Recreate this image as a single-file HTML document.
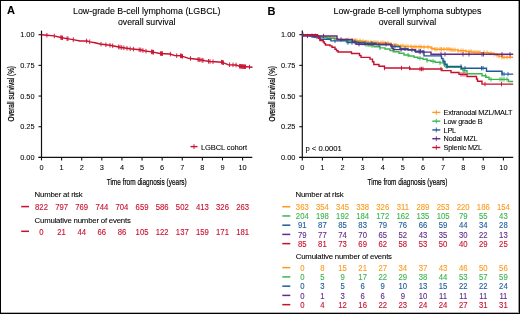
<!DOCTYPE html>
<html><head><meta charset="utf-8"><style>
html,body{margin:0;padding:0;background:#fff;}
body{width:520px;height:314px;overflow:hidden;}
.frame{position:absolute;left:0;top:0;width:520px;height:314px;box-sizing:border-box;border:1px solid #000;}
.frame2{position:absolute;left:0;top:0;width:519px;height:313px;box-sizing:border-box;border-right:1px solid rgba(0,0,0,0.4);border-bottom:1px solid rgba(0,0,0,0.3);}
.wrap{position:absolute;left:0;top:0;width:520px;height:314px;will-change:transform;}
svg{position:absolute;left:0;top:0;}
text{font-family:"Liberation Sans", sans-serif;}
</style></head><body>
<div class="wrap"><svg width="520" height="314" viewBox="0 0 520 314">
<text x="7.00" y="13.90" font-size="11" fill="#000" text-anchor="start" font-weight="bold" stroke="#000" stroke-width="0.08" >A</text>
<text x="146.70" y="13.60" font-size="8.9" fill="#000" text-anchor="middle" font-weight="normal" stroke="#000" stroke-width="0.1" >Low-grade B-cell lymphoma (LGBCL)</text>
<text x="146.70" y="24.70" font-size="8.7" fill="#000" text-anchor="middle" font-weight="normal" stroke="#000" stroke-width="0.1" >overall survival</text>
<line x1="41.50" y1="30.6" x2="41.50" y2="158.00" stroke="#111" stroke-width="1.2"/>
<line x1="38.50" y1="157.40" x2="252.30" y2="157.40" stroke="#111" stroke-width="1.3"/>
<line x1="38.50" y1="157.40" x2="41.50" y2="157.40" stroke="#111" stroke-width="1.1"/>
<text transform="translate(34.60,159.95) scale(0.95,1)" font-size="7.8" fill="#000" text-anchor="end" font-weight="normal" stroke="#000" stroke-width="0.06" >0.00</text>
<line x1="38.50" y1="126.73" x2="41.50" y2="126.73" stroke="#111" stroke-width="1.1"/>
<text transform="translate(34.60,129.28) scale(0.95,1)" font-size="7.8" fill="#000" text-anchor="end" font-weight="normal" stroke="#000" stroke-width="0.06" >0.25</text>
<line x1="38.50" y1="96.05" x2="41.50" y2="96.05" stroke="#111" stroke-width="1.1"/>
<text transform="translate(34.60,98.60) scale(0.95,1)" font-size="7.8" fill="#000" text-anchor="end" font-weight="normal" stroke="#000" stroke-width="0.06" >0.50</text>
<line x1="38.50" y1="65.38" x2="41.50" y2="65.38" stroke="#111" stroke-width="1.1"/>
<text transform="translate(34.60,67.92) scale(0.95,1)" font-size="7.8" fill="#000" text-anchor="end" font-weight="normal" stroke="#000" stroke-width="0.06" >0.75</text>
<line x1="38.50" y1="34.70" x2="41.50" y2="34.70" stroke="#111" stroke-width="1.1"/>
<text transform="translate(34.60,37.25) scale(0.95,1)" font-size="7.8" fill="#000" text-anchor="end" font-weight="normal" stroke="#000" stroke-width="0.06" >1.00</text>
<line x1="41.50" y1="157.40" x2="41.50" y2="160.40" stroke="#111" stroke-width="1.1"/>
<text transform="translate(41.50,169.60) scale(0.95,1)" font-size="7.8" fill="#000" text-anchor="middle" font-weight="normal" stroke="#000" stroke-width="0.06" >0</text>
<line x1="61.61" y1="157.40" x2="61.61" y2="160.40" stroke="#111" stroke-width="1.1"/>
<text transform="translate(61.61,169.60) scale(0.95,1)" font-size="7.8" fill="#000" text-anchor="middle" font-weight="normal" stroke="#000" stroke-width="0.06" >1</text>
<line x1="81.72" y1="157.40" x2="81.72" y2="160.40" stroke="#111" stroke-width="1.1"/>
<text transform="translate(81.72,169.60) scale(0.95,1)" font-size="7.8" fill="#000" text-anchor="middle" font-weight="normal" stroke="#000" stroke-width="0.06" >2</text>
<line x1="101.83" y1="157.40" x2="101.83" y2="160.40" stroke="#111" stroke-width="1.1"/>
<text transform="translate(101.83,169.60) scale(0.95,1)" font-size="7.8" fill="#000" text-anchor="middle" font-weight="normal" stroke="#000" stroke-width="0.06" >3</text>
<line x1="121.94" y1="157.40" x2="121.94" y2="160.40" stroke="#111" stroke-width="1.1"/>
<text transform="translate(121.94,169.60) scale(0.95,1)" font-size="7.8" fill="#000" text-anchor="middle" font-weight="normal" stroke="#000" stroke-width="0.06" >4</text>
<line x1="142.05" y1="157.40" x2="142.05" y2="160.40" stroke="#111" stroke-width="1.1"/>
<text transform="translate(142.05,169.60) scale(0.95,1)" font-size="7.8" fill="#000" text-anchor="middle" font-weight="normal" stroke="#000" stroke-width="0.06" >5</text>
<line x1="162.16" y1="157.40" x2="162.16" y2="160.40" stroke="#111" stroke-width="1.1"/>
<text transform="translate(162.16,169.60) scale(0.95,1)" font-size="7.8" fill="#000" text-anchor="middle" font-weight="normal" stroke="#000" stroke-width="0.06" >6</text>
<line x1="182.27" y1="157.40" x2="182.27" y2="160.40" stroke="#111" stroke-width="1.1"/>
<text transform="translate(182.27,169.60) scale(0.95,1)" font-size="7.8" fill="#000" text-anchor="middle" font-weight="normal" stroke="#000" stroke-width="0.06" >7</text>
<line x1="202.38" y1="157.40" x2="202.38" y2="160.40" stroke="#111" stroke-width="1.1"/>
<text transform="translate(202.38,169.60) scale(0.95,1)" font-size="7.8" fill="#000" text-anchor="middle" font-weight="normal" stroke="#000" stroke-width="0.06" >8</text>
<line x1="222.49" y1="157.40" x2="222.49" y2="160.40" stroke="#111" stroke-width="1.1"/>
<text transform="translate(222.49,169.60) scale(0.95,1)" font-size="7.8" fill="#000" text-anchor="middle" font-weight="normal" stroke="#000" stroke-width="0.06" >9</text>
<line x1="242.60" y1="157.40" x2="242.60" y2="160.40" stroke="#111" stroke-width="1.1"/>
<text transform="translate(242.60,169.60) scale(0.95,1)" font-size="7.8" fill="#000" text-anchor="middle" font-weight="normal" stroke="#000" stroke-width="0.06" >10</text>
<text transform="translate(14.30,93.80) rotate(-90) scale(0.655,1)" font-size="9.8" fill="#000" stroke="#000" stroke-width="0.22" text-anchor="middle">Overall survival (%)</text>
<text transform="translate(146.70,184.70) scale(0.69,1)" font-size="9.4" fill="#000" stroke="#000" stroke-width="0.2" text-anchor="middle">Time from diagnosis (years)</text>
<path d="M41.50,34.80 L47.00,35.20 L54.00,35.90 L62.00,37.80 L67.00,38.60 L73.00,39.60 L80.00,41.00 L87.00,41.00 L90.00,41.90 L95.00,42.80 L100.00,44.00 L110.00,45.30 L120.00,47.20 L130.00,48.80 L140.00,49.80 L145.00,51.00 L152.00,51.90 L160.00,53.50 L170.00,54.00 L175.00,55.60 L181.00,55.80 L188.00,58.20 L195.00,59.00 L200.00,59.80 L205.00,60.80 L210.00,61.50 L215.00,61.80 L222.00,62.20 L225.00,63.30 L228.00,64.70 L236.00,65.00 L239.00,66.20 L246.00,66.80 L252.50,67.30" fill="none" stroke="#C8102E" stroke-width="1.4" stroke-linejoin="round"/>
<line x1="46.90" y1="32.89" x2="46.90" y2="37.49" stroke="#C8102E" stroke-width="0.9"/>
<line x1="54.30" y1="33.67" x2="54.30" y2="38.27" stroke="#C8102E" stroke-width="0.9"/>
<line x1="60.80" y1="35.21" x2="60.80" y2="39.81" stroke="#C8102E" stroke-width="0.9"/>
<line x1="61.70" y1="35.43" x2="61.70" y2="40.03" stroke="#C8102E" stroke-width="0.9"/>
<line x1="62.50" y1="35.58" x2="62.50" y2="40.18" stroke="#C8102E" stroke-width="0.9"/>
<line x1="67.00" y1="36.30" x2="67.00" y2="40.90" stroke="#C8102E" stroke-width="0.9"/>
<line x1="68.00" y1="36.47" x2="68.00" y2="41.07" stroke="#C8102E" stroke-width="0.9"/>
<line x1="73.30" y1="37.36" x2="73.30" y2="41.96" stroke="#C8102E" stroke-width="0.9"/>
<line x1="86.60" y1="38.70" x2="86.60" y2="43.30" stroke="#C8102E" stroke-width="0.9"/>
<line x1="89.70" y1="39.51" x2="89.70" y2="44.11" stroke="#C8102E" stroke-width="0.9"/>
<line x1="101.00" y1="41.83" x2="101.00" y2="46.43" stroke="#C8102E" stroke-width="0.9"/>
<line x1="105.90" y1="42.47" x2="105.90" y2="47.07" stroke="#C8102E" stroke-width="0.9"/>
<line x1="110.00" y1="43.00" x2="110.00" y2="47.60" stroke="#C8102E" stroke-width="0.9"/>
<line x1="112.70" y1="43.51" x2="112.70" y2="48.11" stroke="#C8102E" stroke-width="0.9"/>
<line x1="118.60" y1="44.63" x2="118.60" y2="49.23" stroke="#C8102E" stroke-width="0.9"/>
<line x1="120.00" y1="44.90" x2="120.00" y2="49.50" stroke="#C8102E" stroke-width="0.9"/>
<line x1="121.70" y1="45.17" x2="121.70" y2="49.77" stroke="#C8102E" stroke-width="0.9"/>
<line x1="123.90" y1="45.52" x2="123.90" y2="50.12" stroke="#C8102E" stroke-width="0.9"/>
<line x1="127.00" y1="46.02" x2="127.00" y2="50.62" stroke="#C8102E" stroke-width="0.9"/>
<line x1="130.20" y1="46.52" x2="130.20" y2="51.12" stroke="#C8102E" stroke-width="0.9"/>
<line x1="133.40" y1="46.84" x2="133.40" y2="51.44" stroke="#C8102E" stroke-width="0.9"/>
<line x1="139.20" y1="47.42" x2="139.20" y2="52.02" stroke="#C8102E" stroke-width="0.9"/>
<line x1="140.80" y1="47.69" x2="140.80" y2="52.29" stroke="#C8102E" stroke-width="0.9"/>
<line x1="142.90" y1="48.20" x2="142.90" y2="52.80" stroke="#C8102E" stroke-width="0.9"/>
<line x1="146.00" y1="48.83" x2="146.00" y2="53.43" stroke="#C8102E" stroke-width="0.9"/>
<line x1="151.50" y1="49.54" x2="151.50" y2="54.14" stroke="#C8102E" stroke-width="0.9"/>
<line x1="152.50" y1="49.70" x2="152.50" y2="54.30" stroke="#C8102E" stroke-width="0.9"/>
<line x1="153.50" y1="49.90" x2="153.50" y2="54.50" stroke="#C8102E" stroke-width="0.9"/>
<line x1="160.50" y1="51.23" x2="160.50" y2="55.82" stroke="#C8102E" stroke-width="0.9"/>
<line x1="161.50" y1="51.28" x2="161.50" y2="55.88" stroke="#C8102E" stroke-width="0.9"/>
<line x1="162.50" y1="51.33" x2="162.50" y2="55.92" stroke="#C8102E" stroke-width="0.9"/>
<line x1="170.40" y1="51.83" x2="170.40" y2="56.43" stroke="#C8102E" stroke-width="0.9"/>
<line x1="176.70" y1="53.36" x2="176.70" y2="57.96" stroke="#C8102E" stroke-width="0.9"/>
<line x1="180.50" y1="53.48" x2="180.50" y2="58.08" stroke="#C8102E" stroke-width="0.9"/>
<line x1="181.50" y1="53.67" x2="181.50" y2="58.27" stroke="#C8102E" stroke-width="0.9"/>
<line x1="182.50" y1="54.01" x2="182.50" y2="58.61" stroke="#C8102E" stroke-width="0.9"/>
<line x1="190.50" y1="56.19" x2="190.50" y2="60.79" stroke="#C8102E" stroke-width="0.9"/>
<line x1="198.00" y1="57.18" x2="198.00" y2="61.78" stroke="#C8102E" stroke-width="0.9"/>
<line x1="199.00" y1="57.34" x2="199.00" y2="61.94" stroke="#C8102E" stroke-width="0.9"/>
<line x1="200.00" y1="57.50" x2="200.00" y2="62.10" stroke="#C8102E" stroke-width="0.9"/>
<line x1="202.00" y1="57.90" x2="202.00" y2="62.50" stroke="#C8102E" stroke-width="0.9"/>
<line x1="203.00" y1="58.10" x2="203.00" y2="62.70" stroke="#C8102E" stroke-width="0.9"/>
<line x1="208.50" y1="58.99" x2="208.50" y2="63.59" stroke="#C8102E" stroke-width="0.9"/>
<line x1="210.00" y1="59.20" x2="210.00" y2="63.80" stroke="#C8102E" stroke-width="0.9"/>
<line x1="213.00" y1="59.38" x2="213.00" y2="63.98" stroke="#C8102E" stroke-width="0.9"/>
<line x1="221.50" y1="59.87" x2="221.50" y2="64.47" stroke="#C8102E" stroke-width="0.9"/>
<line x1="222.50" y1="60.08" x2="222.50" y2="64.68" stroke="#C8102E" stroke-width="0.9"/>
<line x1="223.50" y1="60.45" x2="223.50" y2="65.05" stroke="#C8102E" stroke-width="0.9"/>
<line x1="229.60" y1="62.46" x2="229.60" y2="67.06" stroke="#C8102E" stroke-width="0.9"/>
<line x1="233.00" y1="62.59" x2="233.00" y2="67.19" stroke="#C8102E" stroke-width="0.9"/>
<line x1="236.00" y1="62.70" x2="236.00" y2="67.30" stroke="#C8102E" stroke-width="0.9"/>
<line x1="239.50" y1="63.94" x2="239.50" y2="68.54" stroke="#C8102E" stroke-width="0.9"/>
<line x1="240.50" y1="64.03" x2="240.50" y2="68.63" stroke="#C8102E" stroke-width="0.9"/>
<line x1="241.50" y1="64.11" x2="241.50" y2="68.71" stroke="#C8102E" stroke-width="0.9"/>
<line x1="242.50" y1="64.20" x2="242.50" y2="68.80" stroke="#C8102E" stroke-width="0.9"/>
<line x1="243.50" y1="64.29" x2="243.50" y2="68.89" stroke="#C8102E" stroke-width="0.9"/>
<line x1="244.50" y1="64.37" x2="244.50" y2="68.97" stroke="#C8102E" stroke-width="0.9"/>
<line x1="245.50" y1="64.46" x2="245.50" y2="69.06" stroke="#C8102E" stroke-width="0.9"/>
<line x1="249.50" y1="64.77" x2="249.50" y2="69.37" stroke="#C8102E" stroke-width="0.9"/>
<line x1="190.5" y1="146.6" x2="197.5" y2="146.6" stroke="#C8102E" stroke-width="1.4"/>
<line x1="194" y1="144.2" x2="194" y2="149" stroke="#C8102E" stroke-width="0.9"/>
<text x="201.00" y="149.70" font-size="7.6" fill="#000" text-anchor="start" font-weight="normal" stroke="#000" stroke-width="0.08" letter-spacing="-0.16">LGBCL cohort</text>
<text x="34.60" y="196.90" font-size="7.8" fill="#000" text-anchor="start" font-weight="normal" stroke="#000" stroke-width="0.08" letter-spacing="-0.2">Number at risk</text>
<text x="34.60" y="222.80" font-size="7.8" fill="#000" text-anchor="start" font-weight="normal" stroke="#000" stroke-width="0.08" letter-spacing="-0.2">Cumulative number of events</text>
<line x1="21.2" y1="206.6" x2="29" y2="206.6" stroke="#C8102E" stroke-width="1.5"/>
<line x1="21.2" y1="231.3" x2="29" y2="231.3" stroke="#C8102E" stroke-width="1.5"/>
<text transform="translate(41.50,209.70) scale(0.93,1)" font-size="8.3" fill="#C8102E" text-anchor="middle" font-weight="normal" stroke="#C8102E" stroke-width="0.12" >822</text>
<text transform="translate(41.50,234.50) scale(0.93,1)" font-size="8.3" fill="#C8102E" text-anchor="middle" font-weight="normal" stroke="#C8102E" stroke-width="0.12" >0</text>
<text transform="translate(61.61,209.70) scale(0.93,1)" font-size="8.3" fill="#C8102E" text-anchor="middle" font-weight="normal" stroke="#C8102E" stroke-width="0.12" >797</text>
<text transform="translate(61.61,234.50) scale(0.93,1)" font-size="8.3" fill="#C8102E" text-anchor="middle" font-weight="normal" stroke="#C8102E" stroke-width="0.12" >21</text>
<text transform="translate(81.72,209.70) scale(0.93,1)" font-size="8.3" fill="#C8102E" text-anchor="middle" font-weight="normal" stroke="#C8102E" stroke-width="0.12" >769</text>
<text transform="translate(81.72,234.50) scale(0.93,1)" font-size="8.3" fill="#C8102E" text-anchor="middle" font-weight="normal" stroke="#C8102E" stroke-width="0.12" >44</text>
<text transform="translate(101.83,209.70) scale(0.93,1)" font-size="8.3" fill="#C8102E" text-anchor="middle" font-weight="normal" stroke="#C8102E" stroke-width="0.12" >744</text>
<text transform="translate(101.83,234.50) scale(0.93,1)" font-size="8.3" fill="#C8102E" text-anchor="middle" font-weight="normal" stroke="#C8102E" stroke-width="0.12" >66</text>
<text transform="translate(121.94,209.70) scale(0.93,1)" font-size="8.3" fill="#C8102E" text-anchor="middle" font-weight="normal" stroke="#C8102E" stroke-width="0.12" >704</text>
<text transform="translate(121.94,234.50) scale(0.93,1)" font-size="8.3" fill="#C8102E" text-anchor="middle" font-weight="normal" stroke="#C8102E" stroke-width="0.12" >86</text>
<text transform="translate(142.05,209.70) scale(0.93,1)" font-size="8.3" fill="#C8102E" text-anchor="middle" font-weight="normal" stroke="#C8102E" stroke-width="0.12" >659</text>
<text transform="translate(142.05,234.50) scale(0.93,1)" font-size="8.3" fill="#C8102E" text-anchor="middle" font-weight="normal" stroke="#C8102E" stroke-width="0.12" >105</text>
<text transform="translate(162.16,209.70) scale(0.93,1)" font-size="8.3" fill="#C8102E" text-anchor="middle" font-weight="normal" stroke="#C8102E" stroke-width="0.12" >586</text>
<text transform="translate(162.16,234.50) scale(0.93,1)" font-size="8.3" fill="#C8102E" text-anchor="middle" font-weight="normal" stroke="#C8102E" stroke-width="0.12" >122</text>
<text transform="translate(182.27,209.70) scale(0.93,1)" font-size="8.3" fill="#C8102E" text-anchor="middle" font-weight="normal" stroke="#C8102E" stroke-width="0.12" >502</text>
<text transform="translate(182.27,234.50) scale(0.93,1)" font-size="8.3" fill="#C8102E" text-anchor="middle" font-weight="normal" stroke="#C8102E" stroke-width="0.12" >137</text>
<text transform="translate(202.38,209.70) scale(0.93,1)" font-size="8.3" fill="#C8102E" text-anchor="middle" font-weight="normal" stroke="#C8102E" stroke-width="0.12" >413</text>
<text transform="translate(202.38,234.50) scale(0.93,1)" font-size="8.3" fill="#C8102E" text-anchor="middle" font-weight="normal" stroke="#C8102E" stroke-width="0.12" >159</text>
<text transform="translate(222.49,209.70) scale(0.93,1)" font-size="8.3" fill="#C8102E" text-anchor="middle" font-weight="normal" stroke="#C8102E" stroke-width="0.12" >326</text>
<text transform="translate(222.49,234.50) scale(0.93,1)" font-size="8.3" fill="#C8102E" text-anchor="middle" font-weight="normal" stroke="#C8102E" stroke-width="0.12" >171</text>
<text transform="translate(242.60,209.70) scale(0.93,1)" font-size="8.3" fill="#C8102E" text-anchor="middle" font-weight="normal" stroke="#C8102E" stroke-width="0.12" >263</text>
<text transform="translate(242.60,234.50) scale(0.93,1)" font-size="8.3" fill="#C8102E" text-anchor="middle" font-weight="normal" stroke="#C8102E" stroke-width="0.12" >181</text>
<text x="267.60" y="14.60" font-size="11" fill="#000" text-anchor="start" font-weight="bold" stroke="#000" stroke-width="0.08" >B</text>
<text x="407.50" y="13.60" font-size="8.9" fill="#000" text-anchor="middle" font-weight="normal" stroke="#000" stroke-width="0.1" >Low-grade B-cell lymphoma subtypes</text>
<text x="407.50" y="24.70" font-size="8.7" fill="#000" text-anchor="middle" font-weight="normal" stroke="#000" stroke-width="0.1" >overall survival</text>
<line x1="302.30" y1="30.6" x2="302.30" y2="158.00" stroke="#111" stroke-width="1.2"/>
<line x1="299.30" y1="157.40" x2="513.20" y2="157.40" stroke="#111" stroke-width="1.3"/>
<line x1="299.30" y1="157.40" x2="302.30" y2="157.40" stroke="#111" stroke-width="1.1"/>
<text transform="translate(295.40,159.95) scale(0.95,1)" font-size="7.8" fill="#000" text-anchor="end" font-weight="normal" stroke="#000" stroke-width="0.06" >0.00</text>
<line x1="299.30" y1="126.73" x2="302.30" y2="126.73" stroke="#111" stroke-width="1.1"/>
<text transform="translate(295.40,129.28) scale(0.95,1)" font-size="7.8" fill="#000" text-anchor="end" font-weight="normal" stroke="#000" stroke-width="0.06" >0.25</text>
<line x1="299.30" y1="96.05" x2="302.30" y2="96.05" stroke="#111" stroke-width="1.1"/>
<text transform="translate(295.40,98.60) scale(0.95,1)" font-size="7.8" fill="#000" text-anchor="end" font-weight="normal" stroke="#000" stroke-width="0.06" >0.50</text>
<line x1="299.30" y1="65.38" x2="302.30" y2="65.38" stroke="#111" stroke-width="1.1"/>
<text transform="translate(295.40,67.92) scale(0.95,1)" font-size="7.8" fill="#000" text-anchor="end" font-weight="normal" stroke="#000" stroke-width="0.06" >0.75</text>
<line x1="299.30" y1="34.70" x2="302.30" y2="34.70" stroke="#111" stroke-width="1.1"/>
<text transform="translate(295.40,37.25) scale(0.95,1)" font-size="7.8" fill="#000" text-anchor="end" font-weight="normal" stroke="#000" stroke-width="0.06" >1.00</text>
<line x1="302.30" y1="157.40" x2="302.30" y2="160.40" stroke="#111" stroke-width="1.1"/>
<text transform="translate(302.30,169.60) scale(0.95,1)" font-size="7.8" fill="#000" text-anchor="middle" font-weight="normal" stroke="#000" stroke-width="0.06" >0</text>
<line x1="322.41" y1="157.40" x2="322.41" y2="160.40" stroke="#111" stroke-width="1.1"/>
<text transform="translate(322.41,169.60) scale(0.95,1)" font-size="7.8" fill="#000" text-anchor="middle" font-weight="normal" stroke="#000" stroke-width="0.06" >1</text>
<line x1="342.52" y1="157.40" x2="342.52" y2="160.40" stroke="#111" stroke-width="1.1"/>
<text transform="translate(342.52,169.60) scale(0.95,1)" font-size="7.8" fill="#000" text-anchor="middle" font-weight="normal" stroke="#000" stroke-width="0.06" >2</text>
<line x1="362.63" y1="157.40" x2="362.63" y2="160.40" stroke="#111" stroke-width="1.1"/>
<text transform="translate(362.63,169.60) scale(0.95,1)" font-size="7.8" fill="#000" text-anchor="middle" font-weight="normal" stroke="#000" stroke-width="0.06" >3</text>
<line x1="382.74" y1="157.40" x2="382.74" y2="160.40" stroke="#111" stroke-width="1.1"/>
<text transform="translate(382.74,169.60) scale(0.95,1)" font-size="7.8" fill="#000" text-anchor="middle" font-weight="normal" stroke="#000" stroke-width="0.06" >4</text>
<line x1="402.85" y1="157.40" x2="402.85" y2="160.40" stroke="#111" stroke-width="1.1"/>
<text transform="translate(402.85,169.60) scale(0.95,1)" font-size="7.8" fill="#000" text-anchor="middle" font-weight="normal" stroke="#000" stroke-width="0.06" >5</text>
<line x1="422.96" y1="157.40" x2="422.96" y2="160.40" stroke="#111" stroke-width="1.1"/>
<text transform="translate(422.96,169.60) scale(0.95,1)" font-size="7.8" fill="#000" text-anchor="middle" font-weight="normal" stroke="#000" stroke-width="0.06" >6</text>
<line x1="443.07" y1="157.40" x2="443.07" y2="160.40" stroke="#111" stroke-width="1.1"/>
<text transform="translate(443.07,169.60) scale(0.95,1)" font-size="7.8" fill="#000" text-anchor="middle" font-weight="normal" stroke="#000" stroke-width="0.06" >7</text>
<line x1="463.18" y1="157.40" x2="463.18" y2="160.40" stroke="#111" stroke-width="1.1"/>
<text transform="translate(463.18,169.60) scale(0.95,1)" font-size="7.8" fill="#000" text-anchor="middle" font-weight="normal" stroke="#000" stroke-width="0.06" >8</text>
<line x1="483.29" y1="157.40" x2="483.29" y2="160.40" stroke="#111" stroke-width="1.1"/>
<text transform="translate(483.29,169.60) scale(0.95,1)" font-size="7.8" fill="#000" text-anchor="middle" font-weight="normal" stroke="#000" stroke-width="0.06" >9</text>
<line x1="503.40" y1="157.40" x2="503.40" y2="160.40" stroke="#111" stroke-width="1.1"/>
<text transform="translate(503.40,169.60) scale(0.95,1)" font-size="7.8" fill="#000" text-anchor="middle" font-weight="normal" stroke="#000" stroke-width="0.06" >10</text>
<text transform="translate(275.10,93.80) rotate(-90) scale(0.655,1)" font-size="9.8" fill="#000" stroke="#000" stroke-width="0.22" text-anchor="middle">Overall survival (%)</text>
<text transform="translate(407.50,184.70) scale(0.69,1)" font-size="9.4" fill="#000" stroke="#000" stroke-width="0.2" text-anchor="middle">Time from diagnosis (years)</text>
<path d="M302.30,34.70H306.00V35.00H310.00V35.30H314.00V35.70H318.00V36.20H322.00V36.70H326.00V37.30H330.00V37.90H334.00V38.60H338.00V39.10H342.00V39.40H347.00V39.70H351.00V40.20H356.00V40.70H361.00V41.30H366.00V42.00H372.00V42.40H378.00V42.70H385.00V43.10H391.00V45.00H398.00V46.00H404.00V46.50H412.00V46.80H422.00V47.00H431.00V48.50H434.00V49.20H451.00V49.90H458.00V50.70H466.00V51.50H472.00V52.30H480.00V52.60H489.00V53.30H493.00V54.30H496.00V55.20H499.00V56.20H502.00V57.20H513.20" fill="none" stroke="#FF9A1E" stroke-width="1.4" stroke-linejoin="miter"/>
<line x1="315.30" y1="33.50" x2="315.30" y2="37.90" stroke="#FF9A1E" stroke-width="0.9"/>
<line x1="334.00" y1="36.40" x2="334.00" y2="40.80" stroke="#FF9A1E" stroke-width="0.9"/>
<line x1="348.00" y1="37.50" x2="348.00" y2="41.90" stroke="#FF9A1E" stroke-width="0.9"/>
<line x1="352.00" y1="38.00" x2="352.00" y2="42.40" stroke="#FF9A1E" stroke-width="0.9"/>
<line x1="355.00" y1="38.00" x2="355.00" y2="42.40" stroke="#FF9A1E" stroke-width="0.9"/>
<line x1="357.00" y1="38.50" x2="357.00" y2="42.90" stroke="#FF9A1E" stroke-width="0.9"/>
<line x1="360.00" y1="38.50" x2="360.00" y2="42.90" stroke="#FF9A1E" stroke-width="0.9"/>
<line x1="363.00" y1="39.10" x2="363.00" y2="43.50" stroke="#FF9A1E" stroke-width="0.9"/>
<line x1="366.00" y1="39.80" x2="366.00" y2="44.20" stroke="#FF9A1E" stroke-width="0.9"/>
<line x1="368.00" y1="39.80" x2="368.00" y2="44.20" stroke="#FF9A1E" stroke-width="0.9"/>
<line x1="371.00" y1="39.80" x2="371.00" y2="44.20" stroke="#FF9A1E" stroke-width="0.9"/>
<line x1="374.00" y1="40.20" x2="374.00" y2="44.60" stroke="#FF9A1E" stroke-width="0.9"/>
<line x1="376.00" y1="40.20" x2="376.00" y2="44.60" stroke="#FF9A1E" stroke-width="0.9"/>
<line x1="378.00" y1="40.50" x2="378.00" y2="44.90" stroke="#FF9A1E" stroke-width="0.9"/>
<line x1="381.00" y1="40.50" x2="381.00" y2="44.90" stroke="#FF9A1E" stroke-width="0.9"/>
<line x1="383.00" y1="40.50" x2="383.00" y2="44.90" stroke="#FF9A1E" stroke-width="0.9"/>
<line x1="385.00" y1="40.90" x2="385.00" y2="45.30" stroke="#FF9A1E" stroke-width="0.9"/>
<line x1="388.00" y1="40.90" x2="388.00" y2="45.30" stroke="#FF9A1E" stroke-width="0.9"/>
<line x1="391.00" y1="42.80" x2="391.00" y2="47.20" stroke="#FF9A1E" stroke-width="0.9"/>
<line x1="394.00" y1="42.80" x2="394.00" y2="47.20" stroke="#FF9A1E" stroke-width="0.9"/>
<line x1="396.00" y1="42.80" x2="396.00" y2="47.20" stroke="#FF9A1E" stroke-width="0.9"/>
<line x1="398.00" y1="43.80" x2="398.00" y2="48.20" stroke="#FF9A1E" stroke-width="0.9"/>
<line x1="401.00" y1="43.80" x2="401.00" y2="48.20" stroke="#FF9A1E" stroke-width="0.9"/>
<line x1="403.00" y1="43.80" x2="403.00" y2="48.20" stroke="#FF9A1E" stroke-width="0.9"/>
<line x1="406.00" y1="44.30" x2="406.00" y2="48.70" stroke="#FF9A1E" stroke-width="0.9"/>
<line x1="408.00" y1="44.30" x2="408.00" y2="48.70" stroke="#FF9A1E" stroke-width="0.9"/>
<line x1="411.00" y1="44.30" x2="411.00" y2="48.70" stroke="#FF9A1E" stroke-width="0.9"/>
<line x1="414.00" y1="44.60" x2="414.00" y2="49.00" stroke="#FF9A1E" stroke-width="0.9"/>
<line x1="416.00" y1="44.60" x2="416.00" y2="49.00" stroke="#FF9A1E" stroke-width="0.9"/>
<line x1="419.00" y1="44.60" x2="419.00" y2="49.00" stroke="#FF9A1E" stroke-width="0.9"/>
<line x1="421.00" y1="44.60" x2="421.00" y2="49.00" stroke="#FF9A1E" stroke-width="0.9"/>
<line x1="424.00" y1="44.80" x2="424.00" y2="49.20" stroke="#FF9A1E" stroke-width="0.9"/>
<line x1="428.00" y1="44.80" x2="428.00" y2="49.20" stroke="#FF9A1E" stroke-width="0.9"/>
<line x1="432.00" y1="46.30" x2="432.00" y2="50.70" stroke="#FF9A1E" stroke-width="0.9"/>
<line x1="435.00" y1="47.00" x2="435.00" y2="51.40" stroke="#FF9A1E" stroke-width="0.9"/>
<line x1="437.00" y1="47.00" x2="437.00" y2="51.40" stroke="#FF9A1E" stroke-width="0.9"/>
<line x1="440.00" y1="47.00" x2="440.00" y2="51.40" stroke="#FF9A1E" stroke-width="0.9"/>
<line x1="441.50" y1="47.00" x2="441.50" y2="51.40" stroke="#FF9A1E" stroke-width="0.9"/>
<line x1="444.00" y1="47.00" x2="444.00" y2="51.40" stroke="#FF9A1E" stroke-width="0.9"/>
<line x1="447.00" y1="47.00" x2="447.00" y2="51.40" stroke="#FF9A1E" stroke-width="0.9"/>
<line x1="449.00" y1="47.00" x2="449.00" y2="51.40" stroke="#FF9A1E" stroke-width="0.9"/>
<line x1="451.00" y1="47.70" x2="451.00" y2="52.10" stroke="#FF9A1E" stroke-width="0.9"/>
<line x1="453.00" y1="47.70" x2="453.00" y2="52.10" stroke="#FF9A1E" stroke-width="0.9"/>
<line x1="455.00" y1="47.70" x2="455.00" y2="52.10" stroke="#FF9A1E" stroke-width="0.9"/>
<line x1="458.00" y1="48.50" x2="458.00" y2="52.90" stroke="#FF9A1E" stroke-width="0.9"/>
<line x1="461.00" y1="48.50" x2="461.00" y2="52.90" stroke="#FF9A1E" stroke-width="0.9"/>
<line x1="463.00" y1="48.50" x2="463.00" y2="52.90" stroke="#FF9A1E" stroke-width="0.9"/>
<line x1="466.00" y1="49.30" x2="466.00" y2="53.70" stroke="#FF9A1E" stroke-width="0.9"/>
<line x1="469.00" y1="49.30" x2="469.00" y2="53.70" stroke="#FF9A1E" stroke-width="0.9"/>
<line x1="471.00" y1="49.30" x2="471.00" y2="53.70" stroke="#FF9A1E" stroke-width="0.9"/>
<line x1="474.00" y1="50.10" x2="474.00" y2="54.50" stroke="#FF9A1E" stroke-width="0.9"/>
<line x1="476.00" y1="50.10" x2="476.00" y2="54.50" stroke="#FF9A1E" stroke-width="0.9"/>
<line x1="478.00" y1="50.10" x2="478.00" y2="54.50" stroke="#FF9A1E" stroke-width="0.9"/>
<line x1="480.00" y1="50.40" x2="480.00" y2="54.80" stroke="#FF9A1E" stroke-width="0.9"/>
<line x1="484.00" y1="50.40" x2="484.00" y2="54.80" stroke="#FF9A1E" stroke-width="0.9"/>
<line x1="487.00" y1="50.40" x2="487.00" y2="54.80" stroke="#FF9A1E" stroke-width="0.9"/>
<line x1="491.00" y1="51.10" x2="491.00" y2="55.50" stroke="#FF9A1E" stroke-width="0.9"/>
<line x1="494.00" y1="52.10" x2="494.00" y2="56.50" stroke="#FF9A1E" stroke-width="0.9"/>
<line x1="497.00" y1="53.00" x2="497.00" y2="57.40" stroke="#FF9A1E" stroke-width="0.9"/>
<line x1="499.00" y1="54.00" x2="499.00" y2="58.40" stroke="#FF9A1E" stroke-width="0.9"/>
<line x1="502.00" y1="55.00" x2="502.00" y2="59.40" stroke="#FF9A1E" stroke-width="0.9"/>
<line x1="504.00" y1="55.00" x2="504.00" y2="59.40" stroke="#FF9A1E" stroke-width="0.9"/>
<line x1="507.00" y1="55.00" x2="507.00" y2="59.40" stroke="#FF9A1E" stroke-width="0.9"/>
<line x1="510.00" y1="55.00" x2="510.00" y2="59.40" stroke="#FF9A1E" stroke-width="0.9"/>
<path d="M302.30,34.70H309.00V35.40H315.00V36.40H320.00V37.50H327.00V38.30H337.00V39.60H341.00V40.20H349.00V41.00H354.00V41.80H358.00V43.20H362.00V44.60H368.00V45.70H374.00V46.80H380.00V47.90H385.00V49.00H390.00V50.50H394.00V51.80H399.00V53.20H404.00V55.00H409.00V56.00H414.00V57.20H418.00V58.20H423.00V59.20H427.00V60.50H431.00V61.30H435.00V62.30H440.00V62.90H444.00V65.00H446.00V67.40H461.00V69.30H463.00V70.80H467.00V73.70H482.00V75.80H486.00V77.20H489.00V79.40H508.50V81.50H513.20" fill="none" stroke="#3DB54F" stroke-width="1.4" stroke-linejoin="miter"/>
<line x1="318.00" y1="34.20" x2="318.00" y2="38.60" stroke="#3DB54F" stroke-width="0.9"/>
<line x1="330.00" y1="36.10" x2="330.00" y2="40.50" stroke="#3DB54F" stroke-width="0.9"/>
<line x1="346.00" y1="38.00" x2="346.00" y2="42.40" stroke="#3DB54F" stroke-width="0.9"/>
<line x1="359.00" y1="41.00" x2="359.00" y2="45.40" stroke="#3DB54F" stroke-width="0.9"/>
<line x1="366.00" y1="42.40" x2="366.00" y2="46.80" stroke="#3DB54F" stroke-width="0.9"/>
<line x1="372.00" y1="43.50" x2="372.00" y2="47.90" stroke="#3DB54F" stroke-width="0.9"/>
<line x1="380.00" y1="45.70" x2="380.00" y2="50.10" stroke="#3DB54F" stroke-width="0.9"/>
<line x1="393.00" y1="48.30" x2="393.00" y2="52.70" stroke="#3DB54F" stroke-width="0.9"/>
<line x1="408.00" y1="52.80" x2="408.00" y2="57.20" stroke="#3DB54F" stroke-width="0.9"/>
<line x1="420.00" y1="56.00" x2="420.00" y2="60.40" stroke="#3DB54F" stroke-width="0.9"/>
<line x1="427.00" y1="58.30" x2="427.00" y2="62.70" stroke="#3DB54F" stroke-width="0.9"/>
<line x1="433.00" y1="59.10" x2="433.00" y2="63.50" stroke="#3DB54F" stroke-width="0.9"/>
<line x1="440.00" y1="60.70" x2="440.00" y2="65.10" stroke="#3DB54F" stroke-width="0.9"/>
<line x1="444.50" y1="62.80" x2="444.50" y2="67.20" stroke="#3DB54F" stroke-width="0.9"/>
<line x1="464.00" y1="68.60" x2="464.00" y2="73.00" stroke="#3DB54F" stroke-width="0.9"/>
<line x1="485.50" y1="73.60" x2="485.50" y2="78.00" stroke="#3DB54F" stroke-width="0.9"/>
<line x1="491.00" y1="77.20" x2="491.00" y2="81.60" stroke="#3DB54F" stroke-width="0.9"/>
<line x1="500.00" y1="77.20" x2="500.00" y2="81.60" stroke="#3DB54F" stroke-width="0.9"/>
<line x1="502.00" y1="77.20" x2="502.00" y2="81.60" stroke="#3DB54F" stroke-width="0.9"/>
<line x1="504.00" y1="77.20" x2="504.00" y2="81.60" stroke="#3DB54F" stroke-width="0.9"/>
<line x1="507.00" y1="77.20" x2="507.00" y2="81.60" stroke="#3DB54F" stroke-width="0.9"/>
<path d="M302.30,34.70H310.00V35.70H313.00V37.00H320.00V39.20H331.00V40.90H347.00V42.50H364.00V43.30H376.00V44.80H392.00V46.50H400.00V48.80H408.00V50.00H415.00V51.20H424.00V55.90H441.50V58.50H443.00V61.50H445.00V64.20H447.00V66.50H461.50V68.20H486.50V71.20H502.00V74.10H513.20" fill="none" stroke="#1D5B99" stroke-width="1.4" stroke-linejoin="miter"/>
<line x1="303.00" y1="32.50" x2="303.00" y2="36.90" stroke="#1D5B99" stroke-width="0.9"/>
<line x1="312.00" y1="33.50" x2="312.00" y2="37.90" stroke="#1D5B99" stroke-width="0.9"/>
<line x1="317.00" y1="34.80" x2="317.00" y2="39.20" stroke="#1D5B99" stroke-width="0.9"/>
<line x1="335.00" y1="38.70" x2="335.00" y2="43.10" stroke="#1D5B99" stroke-width="0.9"/>
<line x1="348.00" y1="40.30" x2="348.00" y2="44.70" stroke="#1D5B99" stroke-width="0.9"/>
<line x1="352.00" y1="40.30" x2="352.00" y2="44.70" stroke="#1D5B99" stroke-width="0.9"/>
<line x1="365.00" y1="41.10" x2="365.00" y2="45.50" stroke="#1D5B99" stroke-width="0.9"/>
<line x1="372.00" y1="41.10" x2="372.00" y2="45.50" stroke="#1D5B99" stroke-width="0.9"/>
<line x1="379.00" y1="42.60" x2="379.00" y2="47.00" stroke="#1D5B99" stroke-width="0.9"/>
<line x1="395.00" y1="44.30" x2="395.00" y2="48.70" stroke="#1D5B99" stroke-width="0.9"/>
<line x1="405.00" y1="46.60" x2="405.00" y2="51.00" stroke="#1D5B99" stroke-width="0.9"/>
<line x1="412.00" y1="47.80" x2="412.00" y2="52.20" stroke="#1D5B99" stroke-width="0.9"/>
<line x1="419.00" y1="49.00" x2="419.00" y2="53.40" stroke="#1D5B99" stroke-width="0.9"/>
<line x1="420.50" y1="49.00" x2="420.50" y2="53.40" stroke="#1D5B99" stroke-width="0.9"/>
<line x1="444.00" y1="59.30" x2="444.00" y2="63.70" stroke="#1D5B99" stroke-width="0.9"/>
<line x1="447.00" y1="64.30" x2="447.00" y2="68.70" stroke="#1D5B99" stroke-width="0.9"/>
<line x1="461.00" y1="64.30" x2="461.00" y2="68.70" stroke="#1D5B99" stroke-width="0.9"/>
<line x1="465.00" y1="66.00" x2="465.00" y2="70.40" stroke="#1D5B99" stroke-width="0.9"/>
<line x1="481.50" y1="66.00" x2="481.50" y2="70.40" stroke="#1D5B99" stroke-width="0.9"/>
<line x1="483.00" y1="66.00" x2="483.00" y2="70.40" stroke="#1D5B99" stroke-width="0.9"/>
<line x1="502.00" y1="71.90" x2="502.00" y2="76.30" stroke="#1D5B99" stroke-width="0.9"/>
<line x1="504.00" y1="71.90" x2="504.00" y2="76.30" stroke="#1D5B99" stroke-width="0.9"/>
<line x1="508.00" y1="71.90" x2="508.00" y2="76.30" stroke="#1D5B99" stroke-width="0.9"/>
<path d="M302.30,34.70H303.20V36.00H337.00V39.50H352.50V41.90H356.00V44.20H391.00V46.50H392.00V48.20H393.50V49.60H415.50V52.10H431.00V54.30H513.20" fill="none" stroke="#612B87" stroke-width="1.4" stroke-linejoin="miter"/>
<line x1="307.50" y1="33.80" x2="307.50" y2="38.20" stroke="#612B87" stroke-width="0.9"/>
<line x1="315.00" y1="33.80" x2="315.00" y2="38.20" stroke="#612B87" stroke-width="0.9"/>
<line x1="323.50" y1="33.80" x2="323.50" y2="38.20" stroke="#612B87" stroke-width="0.9"/>
<line x1="341.00" y1="37.30" x2="341.00" y2="41.70" stroke="#612B87" stroke-width="0.9"/>
<line x1="355.00" y1="39.70" x2="355.00" y2="44.10" stroke="#612B87" stroke-width="0.9"/>
<line x1="359.00" y1="42.00" x2="359.00" y2="46.40" stroke="#612B87" stroke-width="0.9"/>
<line x1="386.00" y1="42.00" x2="386.00" y2="46.40" stroke="#612B87" stroke-width="0.9"/>
<line x1="401.00" y1="47.40" x2="401.00" y2="51.80" stroke="#612B87" stroke-width="0.9"/>
<line x1="420.00" y1="49.90" x2="420.00" y2="54.30" stroke="#612B87" stroke-width="0.9"/>
<line x1="423.00" y1="49.90" x2="423.00" y2="54.30" stroke="#612B87" stroke-width="0.9"/>
<line x1="441.00" y1="52.10" x2="441.00" y2="56.50" stroke="#612B87" stroke-width="0.9"/>
<line x1="445.00" y1="52.10" x2="445.00" y2="56.50" stroke="#612B87" stroke-width="0.9"/>
<line x1="463.00" y1="52.10" x2="463.00" y2="56.50" stroke="#612B87" stroke-width="0.9"/>
<line x1="469.00" y1="52.10" x2="469.00" y2="56.50" stroke="#612B87" stroke-width="0.9"/>
<line x1="482.00" y1="52.10" x2="482.00" y2="56.50" stroke="#612B87" stroke-width="0.9"/>
<line x1="483.50" y1="52.10" x2="483.50" y2="56.50" stroke="#612B87" stroke-width="0.9"/>
<line x1="502.00" y1="52.10" x2="502.00" y2="56.50" stroke="#612B87" stroke-width="0.9"/>
<line x1="510.00" y1="52.10" x2="510.00" y2="56.50" stroke="#612B87" stroke-width="0.9"/>
<path d="M302.30,34.70H317.30V36.30H318.60V38.40H319.90V40.50H323.20V42.00H324.40V43.60H325.50V45.00H330.00V45.90H332.00V47.30H335.00V49.30H336.50V50.80H338.00V52.00H351.50V53.50H359.50V55.50H361.00V57.40H370.00V59.10H372.50V61.70H373.80V64.50H379.00V66.20H384.50V68.00H410.00V69.00H442.00V70.60H451.00V72.50H459.00V74.40H467.00V76.50H476.50V79.00H477.50V81.30H482.00V84.10H513.20" fill="none" stroke="#C8102E" stroke-width="1.4" stroke-linejoin="miter"/>
<line x1="384.50" y1="65.80" x2="384.50" y2="70.20" stroke="#C8102E" stroke-width="0.9"/>
<line x1="401.50" y1="65.80" x2="401.50" y2="70.20" stroke="#C8102E" stroke-width="0.9"/>
<line x1="409.50" y1="65.80" x2="409.50" y2="70.20" stroke="#C8102E" stroke-width="0.9"/>
<line x1="420.00" y1="66.80" x2="420.00" y2="71.20" stroke="#C8102E" stroke-width="0.9"/>
<line x1="421.50" y1="66.80" x2="421.50" y2="71.20" stroke="#C8102E" stroke-width="0.9"/>
<line x1="423.00" y1="66.80" x2="423.00" y2="71.20" stroke="#C8102E" stroke-width="0.9"/>
<line x1="441.00" y1="66.80" x2="441.00" y2="71.20" stroke="#C8102E" stroke-width="0.9"/>
<line x1="461.00" y1="72.20" x2="461.00" y2="76.60" stroke="#C8102E" stroke-width="0.9"/>
<line x1="463.00" y1="72.20" x2="463.00" y2="76.60" stroke="#C8102E" stroke-width="0.9"/>
<line x1="465.00" y1="72.20" x2="465.00" y2="76.60" stroke="#C8102E" stroke-width="0.9"/>
<line x1="485.00" y1="81.90" x2="485.00" y2="86.30" stroke="#C8102E" stroke-width="0.9"/>
<line x1="501.50" y1="81.90" x2="501.50" y2="86.30" stroke="#C8102E" stroke-width="0.9"/>
<line x1="432.3" y1="112.40" x2="440.3" y2="112.40" stroke="#FF9A1E" stroke-width="1.4"/>
<line x1="436.3" y1="110.00" x2="436.3" y2="114.80" stroke="#FF9A1E" stroke-width="0.9"/>
<text x="443.60" y="115.10" font-size="7.3" fill="#000" text-anchor="start" font-weight="normal" stroke="#000" stroke-width="0.08" letter-spacing="-0.2">Extranodal MZL/MALT</text>
<line x1="432.3" y1="121.17" x2="440.3" y2="121.17" stroke="#3DB54F" stroke-width="1.4"/>
<line x1="436.3" y1="118.77" x2="436.3" y2="123.57" stroke="#3DB54F" stroke-width="0.9"/>
<text x="443.60" y="123.87" font-size="7.3" fill="#000" text-anchor="start" font-weight="normal" stroke="#000" stroke-width="0.08" letter-spacing="-0.2">Low grade B</text>
<line x1="432.3" y1="129.94" x2="440.3" y2="129.94" stroke="#1D5B99" stroke-width="1.4"/>
<line x1="436.3" y1="127.54" x2="436.3" y2="132.34" stroke="#1D5B99" stroke-width="0.9"/>
<text x="443.60" y="132.64" font-size="7.3" fill="#000" text-anchor="start" font-weight="normal" stroke="#000" stroke-width="0.08" letter-spacing="-0.2">LPL</text>
<line x1="432.3" y1="138.71" x2="440.3" y2="138.71" stroke="#612B87" stroke-width="1.4"/>
<line x1="436.3" y1="136.31" x2="436.3" y2="141.11" stroke="#612B87" stroke-width="0.9"/>
<text x="443.60" y="141.41" font-size="7.3" fill="#000" text-anchor="start" font-weight="normal" stroke="#000" stroke-width="0.08" letter-spacing="-0.2">Nodal MZL</text>
<line x1="432.3" y1="147.48" x2="440.3" y2="147.48" stroke="#C8102E" stroke-width="1.4"/>
<line x1="436.3" y1="145.08" x2="436.3" y2="149.88" stroke="#C8102E" stroke-width="0.9"/>
<text x="443.60" y="150.18" font-size="7.3" fill="#000" text-anchor="start" font-weight="normal" stroke="#000" stroke-width="0.08" letter-spacing="-0.2">Splenic MZL</text>
<text x="305.50" y="151.10" font-size="7.65" fill="#000" text-anchor="start" font-weight="normal" stroke="#000" stroke-width="0.08" >p &lt; 0.0001</text>
<text x="295.50" y="196.90" font-size="7.8" fill="#000" text-anchor="start" font-weight="normal" stroke="#000" stroke-width="0.08" letter-spacing="-0.2">Number at risk</text>
<text x="295.80" y="258.60" font-size="7.8" fill="#000" text-anchor="start" font-weight="normal" stroke="#000" stroke-width="0.08" letter-spacing="-0.2">Cumulative number of events</text>
<line x1="282.3" y1="206.75" x2="290.3" y2="206.75" stroke="#FF9A1E" stroke-width="1.5"/>
<text transform="translate(302.30,209.85) scale(0.93,1)" font-size="8.3" fill="#FF9A1E" text-anchor="middle" font-weight="normal" stroke="#FF9A1E" stroke-width="0.12" >363</text>
<text transform="translate(322.41,209.85) scale(0.93,1)" font-size="8.3" fill="#FF9A1E" text-anchor="middle" font-weight="normal" stroke="#FF9A1E" stroke-width="0.12" >354</text>
<text transform="translate(342.52,209.85) scale(0.93,1)" font-size="8.3" fill="#FF9A1E" text-anchor="middle" font-weight="normal" stroke="#FF9A1E" stroke-width="0.12" >345</text>
<text transform="translate(362.63,209.85) scale(0.93,1)" font-size="8.3" fill="#FF9A1E" text-anchor="middle" font-weight="normal" stroke="#FF9A1E" stroke-width="0.12" >338</text>
<text transform="translate(382.74,209.85) scale(0.93,1)" font-size="8.3" fill="#FF9A1E" text-anchor="middle" font-weight="normal" stroke="#FF9A1E" stroke-width="0.12" >326</text>
<text transform="translate(402.85,209.85) scale(0.93,1)" font-size="8.3" fill="#FF9A1E" text-anchor="middle" font-weight="normal" stroke="#FF9A1E" stroke-width="0.12" >311</text>
<text transform="translate(422.96,209.85) scale(0.93,1)" font-size="8.3" fill="#FF9A1E" text-anchor="middle" font-weight="normal" stroke="#FF9A1E" stroke-width="0.12" >289</text>
<text transform="translate(443.07,209.85) scale(0.93,1)" font-size="8.3" fill="#FF9A1E" text-anchor="middle" font-weight="normal" stroke="#FF9A1E" stroke-width="0.12" >253</text>
<text transform="translate(463.18,209.85) scale(0.93,1)" font-size="8.3" fill="#FF9A1E" text-anchor="middle" font-weight="normal" stroke="#FF9A1E" stroke-width="0.12" >220</text>
<text transform="translate(483.29,209.85) scale(0.93,1)" font-size="8.3" fill="#FF9A1E" text-anchor="middle" font-weight="normal" stroke="#FF9A1E" stroke-width="0.12" >186</text>
<text transform="translate(503.40,209.85) scale(0.93,1)" font-size="8.3" fill="#FF9A1E" text-anchor="middle" font-weight="normal" stroke="#FF9A1E" stroke-width="0.12" >154</text>
<line x1="282.3" y1="267.65" x2="290.3" y2="267.65" stroke="#FF9A1E" stroke-width="1.5"/>
<text transform="translate(302.30,270.75) scale(0.93,1)" font-size="8.3" fill="#FF9A1E" text-anchor="middle" font-weight="normal" stroke="#FF9A1E" stroke-width="0.12" >0</text>
<text transform="translate(322.41,270.75) scale(0.93,1)" font-size="8.3" fill="#FF9A1E" text-anchor="middle" font-weight="normal" stroke="#FF9A1E" stroke-width="0.12" >8</text>
<text transform="translate(342.52,270.75) scale(0.93,1)" font-size="8.3" fill="#FF9A1E" text-anchor="middle" font-weight="normal" stroke="#FF9A1E" stroke-width="0.12" >15</text>
<text transform="translate(362.63,270.75) scale(0.93,1)" font-size="8.3" fill="#FF9A1E" text-anchor="middle" font-weight="normal" stroke="#FF9A1E" stroke-width="0.12" >21</text>
<text transform="translate(382.74,270.75) scale(0.93,1)" font-size="8.3" fill="#FF9A1E" text-anchor="middle" font-weight="normal" stroke="#FF9A1E" stroke-width="0.12" >27</text>
<text transform="translate(402.85,270.75) scale(0.93,1)" font-size="8.3" fill="#FF9A1E" text-anchor="middle" font-weight="normal" stroke="#FF9A1E" stroke-width="0.12" >34</text>
<text transform="translate(422.96,270.75) scale(0.93,1)" font-size="8.3" fill="#FF9A1E" text-anchor="middle" font-weight="normal" stroke="#FF9A1E" stroke-width="0.12" >37</text>
<text transform="translate(443.07,270.75) scale(0.93,1)" font-size="8.3" fill="#FF9A1E" text-anchor="middle" font-weight="normal" stroke="#FF9A1E" stroke-width="0.12" >43</text>
<text transform="translate(463.18,270.75) scale(0.93,1)" font-size="8.3" fill="#FF9A1E" text-anchor="middle" font-weight="normal" stroke="#FF9A1E" stroke-width="0.12" >46</text>
<text transform="translate(483.29,270.75) scale(0.93,1)" font-size="8.3" fill="#FF9A1E" text-anchor="middle" font-weight="normal" stroke="#FF9A1E" stroke-width="0.12" >50</text>
<text transform="translate(503.40,270.75) scale(0.93,1)" font-size="8.3" fill="#FF9A1E" text-anchor="middle" font-weight="normal" stroke="#FF9A1E" stroke-width="0.12" >56</text>
<line x1="282.3" y1="215.97" x2="290.3" y2="215.97" stroke="#3DB54F" stroke-width="1.5"/>
<text transform="translate(302.30,219.07) scale(0.93,1)" font-size="8.3" fill="#3DB54F" text-anchor="middle" font-weight="normal" stroke="#3DB54F" stroke-width="0.12" >204</text>
<text transform="translate(322.41,219.07) scale(0.93,1)" font-size="8.3" fill="#3DB54F" text-anchor="middle" font-weight="normal" stroke="#3DB54F" stroke-width="0.12" >198</text>
<text transform="translate(342.52,219.07) scale(0.93,1)" font-size="8.3" fill="#3DB54F" text-anchor="middle" font-weight="normal" stroke="#3DB54F" stroke-width="0.12" >192</text>
<text transform="translate(362.63,219.07) scale(0.93,1)" font-size="8.3" fill="#3DB54F" text-anchor="middle" font-weight="normal" stroke="#3DB54F" stroke-width="0.12" >184</text>
<text transform="translate(382.74,219.07) scale(0.93,1)" font-size="8.3" fill="#3DB54F" text-anchor="middle" font-weight="normal" stroke="#3DB54F" stroke-width="0.12" >172</text>
<text transform="translate(402.85,219.07) scale(0.93,1)" font-size="8.3" fill="#3DB54F" text-anchor="middle" font-weight="normal" stroke="#3DB54F" stroke-width="0.12" >162</text>
<text transform="translate(422.96,219.07) scale(0.93,1)" font-size="8.3" fill="#3DB54F" text-anchor="middle" font-weight="normal" stroke="#3DB54F" stroke-width="0.12" >135</text>
<text transform="translate(443.07,219.07) scale(0.93,1)" font-size="8.3" fill="#3DB54F" text-anchor="middle" font-weight="normal" stroke="#3DB54F" stroke-width="0.12" >105</text>
<text transform="translate(463.18,219.07) scale(0.93,1)" font-size="8.3" fill="#3DB54F" text-anchor="middle" font-weight="normal" stroke="#3DB54F" stroke-width="0.12" >79</text>
<text transform="translate(483.29,219.07) scale(0.93,1)" font-size="8.3" fill="#3DB54F" text-anchor="middle" font-weight="normal" stroke="#3DB54F" stroke-width="0.12" >55</text>
<text transform="translate(503.40,219.07) scale(0.93,1)" font-size="8.3" fill="#3DB54F" text-anchor="middle" font-weight="normal" stroke="#3DB54F" stroke-width="0.12" >43</text>
<line x1="282.3" y1="276.90" x2="290.3" y2="276.90" stroke="#3DB54F" stroke-width="1.5"/>
<text transform="translate(302.30,280.00) scale(0.93,1)" font-size="8.3" fill="#3DB54F" text-anchor="middle" font-weight="normal" stroke="#3DB54F" stroke-width="0.12" >0</text>
<text transform="translate(322.41,280.00) scale(0.93,1)" font-size="8.3" fill="#3DB54F" text-anchor="middle" font-weight="normal" stroke="#3DB54F" stroke-width="0.12" >5</text>
<text transform="translate(342.52,280.00) scale(0.93,1)" font-size="8.3" fill="#3DB54F" text-anchor="middle" font-weight="normal" stroke="#3DB54F" stroke-width="0.12" >9</text>
<text transform="translate(362.63,280.00) scale(0.93,1)" font-size="8.3" fill="#3DB54F" text-anchor="middle" font-weight="normal" stroke="#3DB54F" stroke-width="0.12" >17</text>
<text transform="translate(382.74,280.00) scale(0.93,1)" font-size="8.3" fill="#3DB54F" text-anchor="middle" font-weight="normal" stroke="#3DB54F" stroke-width="0.12" >22</text>
<text transform="translate(402.85,280.00) scale(0.93,1)" font-size="8.3" fill="#3DB54F" text-anchor="middle" font-weight="normal" stroke="#3DB54F" stroke-width="0.12" >29</text>
<text transform="translate(422.96,280.00) scale(0.93,1)" font-size="8.3" fill="#3DB54F" text-anchor="middle" font-weight="normal" stroke="#3DB54F" stroke-width="0.12" >38</text>
<text transform="translate(443.07,280.00) scale(0.93,1)" font-size="8.3" fill="#3DB54F" text-anchor="middle" font-weight="normal" stroke="#3DB54F" stroke-width="0.12" >44</text>
<text transform="translate(463.18,280.00) scale(0.93,1)" font-size="8.3" fill="#3DB54F" text-anchor="middle" font-weight="normal" stroke="#3DB54F" stroke-width="0.12" >53</text>
<text transform="translate(483.29,280.00) scale(0.93,1)" font-size="8.3" fill="#3DB54F" text-anchor="middle" font-weight="normal" stroke="#3DB54F" stroke-width="0.12" >57</text>
<text transform="translate(503.40,280.00) scale(0.93,1)" font-size="8.3" fill="#3DB54F" text-anchor="middle" font-weight="normal" stroke="#3DB54F" stroke-width="0.12" >59</text>
<line x1="282.3" y1="225.19" x2="290.3" y2="225.19" stroke="#1D5B99" stroke-width="1.5"/>
<text transform="translate(302.30,228.29) scale(0.93,1)" font-size="8.3" fill="#1D5B99" text-anchor="middle" font-weight="normal" stroke="#1D5B99" stroke-width="0.12" >91</text>
<text transform="translate(322.41,228.29) scale(0.93,1)" font-size="8.3" fill="#1D5B99" text-anchor="middle" font-weight="normal" stroke="#1D5B99" stroke-width="0.12" >87</text>
<text transform="translate(342.52,228.29) scale(0.93,1)" font-size="8.3" fill="#1D5B99" text-anchor="middle" font-weight="normal" stroke="#1D5B99" stroke-width="0.12" >85</text>
<text transform="translate(362.63,228.29) scale(0.93,1)" font-size="8.3" fill="#1D5B99" text-anchor="middle" font-weight="normal" stroke="#1D5B99" stroke-width="0.12" >83</text>
<text transform="translate(382.74,228.29) scale(0.93,1)" font-size="8.3" fill="#1D5B99" text-anchor="middle" font-weight="normal" stroke="#1D5B99" stroke-width="0.12" >79</text>
<text transform="translate(402.85,228.29) scale(0.93,1)" font-size="8.3" fill="#1D5B99" text-anchor="middle" font-weight="normal" stroke="#1D5B99" stroke-width="0.12" >76</text>
<text transform="translate(422.96,228.29) scale(0.93,1)" font-size="8.3" fill="#1D5B99" text-anchor="middle" font-weight="normal" stroke="#1D5B99" stroke-width="0.12" >66</text>
<text transform="translate(443.07,228.29) scale(0.93,1)" font-size="8.3" fill="#1D5B99" text-anchor="middle" font-weight="normal" stroke="#1D5B99" stroke-width="0.12" >59</text>
<text transform="translate(463.18,228.29) scale(0.93,1)" font-size="8.3" fill="#1D5B99" text-anchor="middle" font-weight="normal" stroke="#1D5B99" stroke-width="0.12" >44</text>
<text transform="translate(483.29,228.29) scale(0.93,1)" font-size="8.3" fill="#1D5B99" text-anchor="middle" font-weight="normal" stroke="#1D5B99" stroke-width="0.12" >34</text>
<text transform="translate(503.40,228.29) scale(0.93,1)" font-size="8.3" fill="#1D5B99" text-anchor="middle" font-weight="normal" stroke="#1D5B99" stroke-width="0.12" >28</text>
<line x1="282.3" y1="286.15" x2="290.3" y2="286.15" stroke="#1D5B99" stroke-width="1.5"/>
<text transform="translate(302.30,289.25) scale(0.93,1)" font-size="8.3" fill="#1D5B99" text-anchor="middle" font-weight="normal" stroke="#1D5B99" stroke-width="0.12" >0</text>
<text transform="translate(322.41,289.25) scale(0.93,1)" font-size="8.3" fill="#1D5B99" text-anchor="middle" font-weight="normal" stroke="#1D5B99" stroke-width="0.12" >3</text>
<text transform="translate(342.52,289.25) scale(0.93,1)" font-size="8.3" fill="#1D5B99" text-anchor="middle" font-weight="normal" stroke="#1D5B99" stroke-width="0.12" >5</text>
<text transform="translate(362.63,289.25) scale(0.93,1)" font-size="8.3" fill="#1D5B99" text-anchor="middle" font-weight="normal" stroke="#1D5B99" stroke-width="0.12" >6</text>
<text transform="translate(382.74,289.25) scale(0.93,1)" font-size="8.3" fill="#1D5B99" text-anchor="middle" font-weight="normal" stroke="#1D5B99" stroke-width="0.12" >9</text>
<text transform="translate(402.85,289.25) scale(0.93,1)" font-size="8.3" fill="#1D5B99" text-anchor="middle" font-weight="normal" stroke="#1D5B99" stroke-width="0.12" >10</text>
<text transform="translate(422.96,289.25) scale(0.93,1)" font-size="8.3" fill="#1D5B99" text-anchor="middle" font-weight="normal" stroke="#1D5B99" stroke-width="0.12" >13</text>
<text transform="translate(443.07,289.25) scale(0.93,1)" font-size="8.3" fill="#1D5B99" text-anchor="middle" font-weight="normal" stroke="#1D5B99" stroke-width="0.12" >15</text>
<text transform="translate(463.18,289.25) scale(0.93,1)" font-size="8.3" fill="#1D5B99" text-anchor="middle" font-weight="normal" stroke="#1D5B99" stroke-width="0.12" >22</text>
<text transform="translate(483.29,289.25) scale(0.93,1)" font-size="8.3" fill="#1D5B99" text-anchor="middle" font-weight="normal" stroke="#1D5B99" stroke-width="0.12" >22</text>
<text transform="translate(503.40,289.25) scale(0.93,1)" font-size="8.3" fill="#1D5B99" text-anchor="middle" font-weight="normal" stroke="#1D5B99" stroke-width="0.12" >24</text>
<line x1="282.3" y1="234.41" x2="290.3" y2="234.41" stroke="#612B87" stroke-width="1.5"/>
<text transform="translate(302.30,237.51) scale(0.93,1)" font-size="8.3" fill="#612B87" text-anchor="middle" font-weight="normal" stroke="#612B87" stroke-width="0.12" >79</text>
<text transform="translate(322.41,237.51) scale(0.93,1)" font-size="8.3" fill="#612B87" text-anchor="middle" font-weight="normal" stroke="#612B87" stroke-width="0.12" >77</text>
<text transform="translate(342.52,237.51) scale(0.93,1)" font-size="8.3" fill="#612B87" text-anchor="middle" font-weight="normal" stroke="#612B87" stroke-width="0.12" >74</text>
<text transform="translate(362.63,237.51) scale(0.93,1)" font-size="8.3" fill="#612B87" text-anchor="middle" font-weight="normal" stroke="#612B87" stroke-width="0.12" >70</text>
<text transform="translate(382.74,237.51) scale(0.93,1)" font-size="8.3" fill="#612B87" text-anchor="middle" font-weight="normal" stroke="#612B87" stroke-width="0.12" >65</text>
<text transform="translate(402.85,237.51) scale(0.93,1)" font-size="8.3" fill="#612B87" text-anchor="middle" font-weight="normal" stroke="#612B87" stroke-width="0.12" >52</text>
<text transform="translate(422.96,237.51) scale(0.93,1)" font-size="8.3" fill="#612B87" text-anchor="middle" font-weight="normal" stroke="#612B87" stroke-width="0.12" >43</text>
<text transform="translate(443.07,237.51) scale(0.93,1)" font-size="8.3" fill="#612B87" text-anchor="middle" font-weight="normal" stroke="#612B87" stroke-width="0.12" >35</text>
<text transform="translate(463.18,237.51) scale(0.93,1)" font-size="8.3" fill="#612B87" text-anchor="middle" font-weight="normal" stroke="#612B87" stroke-width="0.12" >30</text>
<text transform="translate(483.29,237.51) scale(0.93,1)" font-size="8.3" fill="#612B87" text-anchor="middle" font-weight="normal" stroke="#612B87" stroke-width="0.12" >22</text>
<text transform="translate(503.40,237.51) scale(0.93,1)" font-size="8.3" fill="#612B87" text-anchor="middle" font-weight="normal" stroke="#612B87" stroke-width="0.12" >13</text>
<line x1="282.3" y1="295.40" x2="290.3" y2="295.40" stroke="#612B87" stroke-width="1.5"/>
<text transform="translate(302.30,298.50) scale(0.93,1)" font-size="8.3" fill="#612B87" text-anchor="middle" font-weight="normal" stroke="#612B87" stroke-width="0.12" >0</text>
<text transform="translate(322.41,298.50) scale(0.93,1)" font-size="8.3" fill="#612B87" text-anchor="middle" font-weight="normal" stroke="#612B87" stroke-width="0.12" >1</text>
<text transform="translate(342.52,298.50) scale(0.93,1)" font-size="8.3" fill="#612B87" text-anchor="middle" font-weight="normal" stroke="#612B87" stroke-width="0.12" >3</text>
<text transform="translate(362.63,298.50) scale(0.93,1)" font-size="8.3" fill="#612B87" text-anchor="middle" font-weight="normal" stroke="#612B87" stroke-width="0.12" >6</text>
<text transform="translate(382.74,298.50) scale(0.93,1)" font-size="8.3" fill="#612B87" text-anchor="middle" font-weight="normal" stroke="#612B87" stroke-width="0.12" >6</text>
<text transform="translate(402.85,298.50) scale(0.93,1)" font-size="8.3" fill="#612B87" text-anchor="middle" font-weight="normal" stroke="#612B87" stroke-width="0.12" >9</text>
<text transform="translate(422.96,298.50) scale(0.93,1)" font-size="8.3" fill="#612B87" text-anchor="middle" font-weight="normal" stroke="#612B87" stroke-width="0.12" >10</text>
<text transform="translate(443.07,298.50) scale(0.93,1)" font-size="8.3" fill="#612B87" text-anchor="middle" font-weight="normal" stroke="#612B87" stroke-width="0.12" >11</text>
<text transform="translate(463.18,298.50) scale(0.93,1)" font-size="8.3" fill="#612B87" text-anchor="middle" font-weight="normal" stroke="#612B87" stroke-width="0.12" >11</text>
<text transform="translate(483.29,298.50) scale(0.93,1)" font-size="8.3" fill="#612B87" text-anchor="middle" font-weight="normal" stroke="#612B87" stroke-width="0.12" >11</text>
<text transform="translate(503.40,298.50) scale(0.93,1)" font-size="8.3" fill="#612B87" text-anchor="middle" font-weight="normal" stroke="#612B87" stroke-width="0.12" >11</text>
<line x1="282.3" y1="243.63" x2="290.3" y2="243.63" stroke="#C8102E" stroke-width="1.5"/>
<text transform="translate(302.30,246.73) scale(0.93,1)" font-size="8.3" fill="#C8102E" text-anchor="middle" font-weight="normal" stroke="#C8102E" stroke-width="0.12" >85</text>
<text transform="translate(322.41,246.73) scale(0.93,1)" font-size="8.3" fill="#C8102E" text-anchor="middle" font-weight="normal" stroke="#C8102E" stroke-width="0.12" >81</text>
<text transform="translate(342.52,246.73) scale(0.93,1)" font-size="8.3" fill="#C8102E" text-anchor="middle" font-weight="normal" stroke="#C8102E" stroke-width="0.12" >73</text>
<text transform="translate(362.63,246.73) scale(0.93,1)" font-size="8.3" fill="#C8102E" text-anchor="middle" font-weight="normal" stroke="#C8102E" stroke-width="0.12" >69</text>
<text transform="translate(382.74,246.73) scale(0.93,1)" font-size="8.3" fill="#C8102E" text-anchor="middle" font-weight="normal" stroke="#C8102E" stroke-width="0.12" >62</text>
<text transform="translate(402.85,246.73) scale(0.93,1)" font-size="8.3" fill="#C8102E" text-anchor="middle" font-weight="normal" stroke="#C8102E" stroke-width="0.12" >58</text>
<text transform="translate(422.96,246.73) scale(0.93,1)" font-size="8.3" fill="#C8102E" text-anchor="middle" font-weight="normal" stroke="#C8102E" stroke-width="0.12" >53</text>
<text transform="translate(443.07,246.73) scale(0.93,1)" font-size="8.3" fill="#C8102E" text-anchor="middle" font-weight="normal" stroke="#C8102E" stroke-width="0.12" >50</text>
<text transform="translate(463.18,246.73) scale(0.93,1)" font-size="8.3" fill="#C8102E" text-anchor="middle" font-weight="normal" stroke="#C8102E" stroke-width="0.12" >40</text>
<text transform="translate(483.29,246.73) scale(0.93,1)" font-size="8.3" fill="#C8102E" text-anchor="middle" font-weight="normal" stroke="#C8102E" stroke-width="0.12" >29</text>
<text transform="translate(503.40,246.73) scale(0.93,1)" font-size="8.3" fill="#C8102E" text-anchor="middle" font-weight="normal" stroke="#C8102E" stroke-width="0.12" >25</text>
<line x1="282.3" y1="304.65" x2="290.3" y2="304.65" stroke="#C8102E" stroke-width="1.5"/>
<text transform="translate(302.30,307.75) scale(0.93,1)" font-size="8.3" fill="#C8102E" text-anchor="middle" font-weight="normal" stroke="#C8102E" stroke-width="0.12" >0</text>
<text transform="translate(322.41,307.75) scale(0.93,1)" font-size="8.3" fill="#C8102E" text-anchor="middle" font-weight="normal" stroke="#C8102E" stroke-width="0.12" >4</text>
<text transform="translate(342.52,307.75) scale(0.93,1)" font-size="8.3" fill="#C8102E" text-anchor="middle" font-weight="normal" stroke="#C8102E" stroke-width="0.12" >12</text>
<text transform="translate(362.63,307.75) scale(0.93,1)" font-size="8.3" fill="#C8102E" text-anchor="middle" font-weight="normal" stroke="#C8102E" stroke-width="0.12" >16</text>
<text transform="translate(382.74,307.75) scale(0.93,1)" font-size="8.3" fill="#C8102E" text-anchor="middle" font-weight="normal" stroke="#C8102E" stroke-width="0.12" >22</text>
<text transform="translate(402.85,307.75) scale(0.93,1)" font-size="8.3" fill="#C8102E" text-anchor="middle" font-weight="normal" stroke="#C8102E" stroke-width="0.12" >23</text>
<text transform="translate(422.96,307.75) scale(0.93,1)" font-size="8.3" fill="#C8102E" text-anchor="middle" font-weight="normal" stroke="#C8102E" stroke-width="0.12" >24</text>
<text transform="translate(443.07,307.75) scale(0.93,1)" font-size="8.3" fill="#C8102E" text-anchor="middle" font-weight="normal" stroke="#C8102E" stroke-width="0.12" >24</text>
<text transform="translate(463.18,307.75) scale(0.93,1)" font-size="8.3" fill="#C8102E" text-anchor="middle" font-weight="normal" stroke="#C8102E" stroke-width="0.12" >27</text>
<text transform="translate(483.29,307.75) scale(0.93,1)" font-size="8.3" fill="#C8102E" text-anchor="middle" font-weight="normal" stroke="#C8102E" stroke-width="0.12" >31</text>
<text transform="translate(503.40,307.75) scale(0.93,1)" font-size="8.3" fill="#C8102E" text-anchor="middle" font-weight="normal" stroke="#C8102E" stroke-width="0.12" >31</text>
</svg></div>
<div class="frame2"></div><div class="frame"></div>
</body></html>
